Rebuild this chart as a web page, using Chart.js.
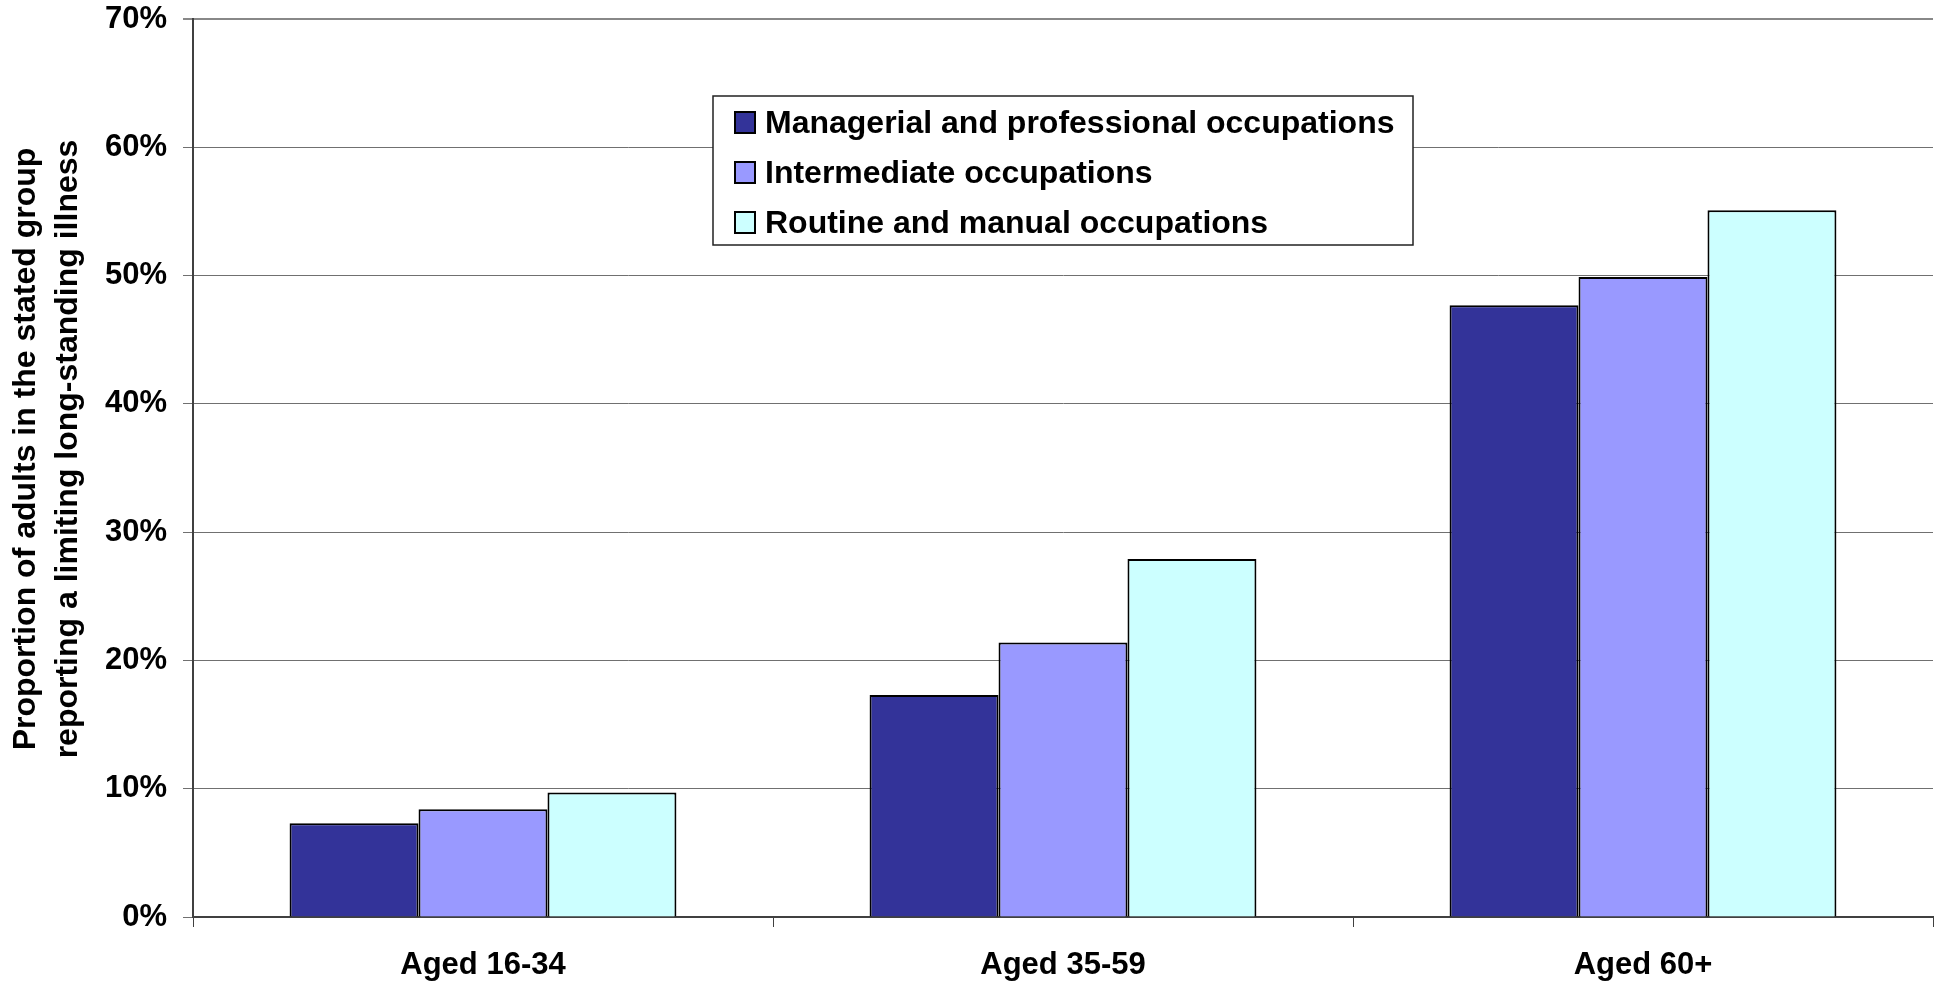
<!DOCTYPE html>
<html>
<head>
<meta charset="utf-8">
<script src="https://cdn.jsdelivr.net/npm/chart.js@4.4.1/dist/chart.umd.min.js"></script>
<style>
  body { margin: 0; background: #fff; }
  #wrap { width: 1935px; height: 981px; }
</style>
</head>
<body>
<div id="wrap"><canvas id="chart" width="1935" height="981"></canvas></div>
<script>
const ageGroups = ['Aged 16-34', 'Aged 35-59', 'Aged 60+']
const seriesNames = [
  'Managerial and professional occupations',
  'Intermediate occupations',
  'Routine and manual occupations'
]
const managerial = [7.3, 17.3, 47.7]
const intermediate = [8.4, 21.4, 49.9]
const routine = [9.7, 27.9, 55.1]
const yTicks = [0, 10, 20, 30, 40, 50, 60, 70]
const yTitle = ['Proportion of adults in the stated group', 'reporting a limiting long-standing illness']

const FONT = "'Liberation Sans', Arial, sans-serif"
Chart.defaults.font.family = FONT
Chart.defaults.font.weight = 'bold'
Chart.defaults.font.size = 31
Chart.defaults.color = '#000'

// y axis title, drawn by hand so it can sit where the original has it
const axisTitle = {
  id: 'axisTitle',
  afterDraw(chart) {
    const ctx = chart.ctx
    ctx.save()
    ctx.font = 'bold 32px ' + FONT
    ctx.fillStyle = '#000'
    ctx.textAlign = 'center'
    ctx.textBaseline = 'alphabetic'
    yTitle.forEach((line, i) => {
      ctx.save()
      ctx.translate(35 + i * 42, 449)
      ctx.rotate(-Math.PI / 2)
      ctx.fillText(line, 0, 0)
      ctx.restore()
    })
    ctx.restore()
  }
}

// boxed legend inside the plot, like the original
const legendBox = {
  id: 'legendBox',
  afterDraw(chart) {
    const ctx = chart.ctx
    ctx.save()
    ctx.fillStyle = '#fff'
    ctx.fillRect(713, 96, 700, 149)
    ctx.strokeStyle = '#222'
    ctx.lineWidth = 1.5
    ctx.strokeRect(713, 96, 700, 149)
    ctx.font = 'bold 32px ' + FONT
    ctx.textBaseline = 'alphabetic'
    chart.data.datasets.forEach((ds, i) => {
      const base = 133 + i * 50
      ctx.fillStyle = ds.backgroundColor
      ctx.fillRect(735, base - 21, 20, 21)
      ctx.strokeStyle = '#000'
      ctx.lineWidth = 2
      ctx.strokeRect(735, base - 21, 20, 21)
      ctx.fillStyle = '#000'
      ctx.fillText(ds.label, 765, base)
    })
    ctx.restore()
  }
}

const ctx = document.getElementById('chart')
new Chart(ctx, {
  type: 'bar',
  data: {
    labels: ageGroups,
    datasets: [
      { label: seriesNames[0], data: managerial, backgroundColor: '#333399' },
      { label: seriesNames[1], data: intermediate, backgroundColor: '#9999FF' },
      { label: seriesNames[2], data: routine, backgroundColor: '#CCFFFF' }
    ]
  },
  options: {
    responsive: false,
    animation: false,
    layout: { padding: { top: 15, right: 2, left: 0, bottom: 0 } },
    datasets: {
      bar: {
        categoryPercentage: 0.667,
        barPercentage: 1.0,
        borderColor: '#000',
        borderWidth: 2
      }
    },
    plugins: {
      legend: { display: false },
      tooltip: { enabled: false }
    },
    scales: {
      x: {
        afterFit: (scale) => { scale.height = 64 },
        grid: {
          offset: true,
          drawOnChartArea: false,
          tickLength: 10,
          color: '#404040'
        },
        border: { color: '#404040', width: 2 },
        ticks: { padding: 20, font: { size: 31, lineHeight: 1.2 } }
      },
      y: {
        min: 0,
        max: 70,
        afterFit: (scale) => { scale.width = 193 },
        afterBuildTicks: (scale) => { scale.ticks = yTicks.map(v => ({ value: v })) },
        grid: {
          tickLength: 10,
          color: (c) => c.tick && c.tick.value === 70 ? '#888' : '#707070',
          lineWidth: (c) => c.tick && c.tick.value === 70 ? 2 : 1
        },
        border: { color: '#404040', width: 2 },
        ticks: {
          padding: 16,
          font: { size: 31, lineHeight: 0.2 },
          callback: (v) => v + '%'
        }
      }
    }
  },
  plugins: [axisTitle, legendBox]
})
</script>
</body>
</html>
